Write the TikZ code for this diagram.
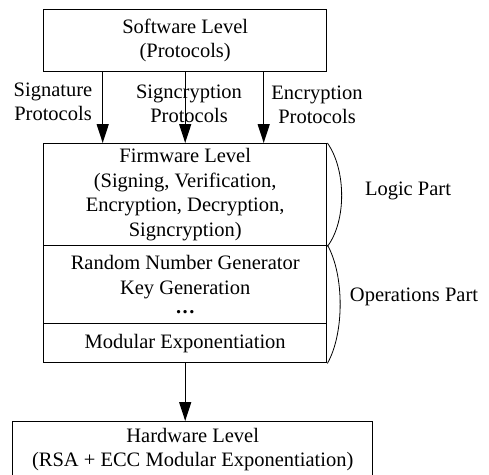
\documentclass[tikz,border=0pt]{standalone}
\usepackage{fontspec}
\setmainfont{Liberation Serif}
\usetikzlibrary{arrows.meta}
\begin{document}
\begin{tikzpicture}[x=1pt,y=-1pt,
  every node/.style={font=\fontsize{20.5}{24.5}\selectfont, align=center, inner sep=0pt},
  box/.style={draw, line width=1.4pt, minimum width=#1, anchor=north west},
  arr/.style={line width=1.4pt, -{Triangle[width=12pt,length=19pt]}},
  brace/.style={line width=0.8pt}]
\useasboundingbox (0,0) rectangle (489,474);
\node[box=283pt, minimum height=62pt] (sw) at (43,9) {Software Level\\(Protocols)};
\node[box=283pt, minimum height=102pt] (fw) at (43,143) {Firmware Level\\(Signing, Verification,\\Encryption, Decryption,\\Signcryption)};
\node[box=283pt, minimum height=78pt] (ops) at (43,245) {Random Number Generator\\Key Generation\\[-5pt]\textbf{.\kern1.5pt.\kern1.5pt.}};
\node[box=283pt, minimum height=39pt] (me) at (43,323) {Modular Exponentiation};
\node[box=360pt, minimum height=56pt] (hw) at (12,421) {Hardware Level\\(RSA + ECC Modular Exponentiation)};
\draw[arr] ([xshift=-82.5pt]sw.south) -- ([xshift=-82.5pt]fw.north);
\draw[arr] (sw.south) -- (fw.north);
\draw[arr] ([xshift=78.5pt]sw.south) -- ([xshift=78.5pt]fw.north);
\draw[arr] (me.south) -- (me.south |- hw.north);
\node (l1) at (53,102) {Signature\\Protocols};
\node (l2) at (189,104) {Signcryption\\Protocols};
\node (l3) at (317,105) {Encryption\\Protocols};
\draw[brace] (fw.north east) .. controls +(19,27) and +(19,-25) .. (fw.south east);
\draw[brace] (ops.north east) .. controls +(17,30) and +(17,-30) .. (me.south east);
\node (lp) at (408,191) {Logic Part};
\node (op) at (414,297) {Operations Part};
\end{tikzpicture}
\end{document}
